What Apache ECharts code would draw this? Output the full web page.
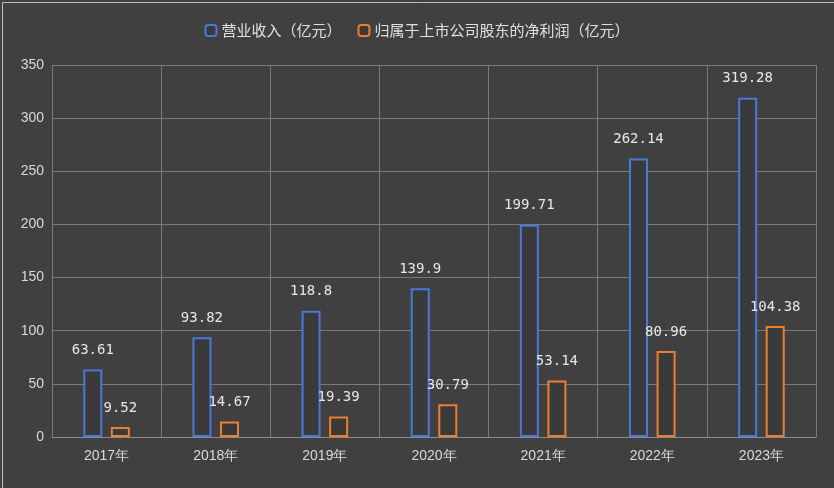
<!DOCTYPE html>
<html><head><meta charset="utf-8">
<script src="https://cdn.jsdelivr.net/npm/echarts@6/dist/echarts.min.js"></script>
<style>html,body{margin:0;padding:0;background:#fff}#c{width:834px;height:488px}</style>
</head><body><div id="c"></div>
<script>
const categories=['2017年','2018年','2019年','2020年','2021年','2022年','2023年'];
const revenue=[63.61,93.82,118.8,139.9,199.71,262.14,319.28];
const profit=[9.52,14.67,19.39,30.79,53.14,80.96,104.38];
const yTicks=[0,50,100,150,200,250,300,350];
const chart=echarts.init(document.getElementById('c'));
const lbl={show:true,position:'top',color:'#e8e8e8',fontFamily:'DejaVu Sans Mono',fontSize:14,distance:12};
chart.setOption({
backgroundColor:'#404040',
legend:{top:18,left:'center',itemWidth:11,itemHeight:11,itemGap:16,textStyle:{color:'#e0e0e0',fontSize:15,fontFamily:'Noto Sans CJK SC'},
data:['营业收入（亿元）','归属于上市公司股东的净利润（亿元）']},
graphic:[{type:'rect',left:0,top:0,shape:{width:832,height:486},style:{fill:'none',stroke:'#bfbfbf',lineWidth:1}}],
grid:{left:52,right:18,top:65,bottom:51},
xAxis:{type:'category',data:categories,axisLine:{lineStyle:{color:'#8c8c8c'}},axisTick:{show:false},
axisLabel:{color:'#d9d9d9',fontSize:14,margin:12},splitLine:{show:true,lineStyle:{color:'#7a7a7a'}}},
yAxis:{type:'value',min:yTicks[0],max:yTicks[yTicks.length-1],interval:50,
axisLabel:{color:'#d9d9d9',fontSize:14},splitLine:{lineStyle:{color:'#7a7a7a'}}},
series:[
{name:'营业收入（亿元）',type:'bar',data:revenue,barWidth:19,barGap:'45%',
itemStyle:{color:'#3a3a3a',borderColor:'#4a78d6',borderWidth:2},label:lbl},
{name:'归属于上市公司股东的净利润（亿元）',type:'bar',data:profit,barWidth:19,
itemStyle:{color:'#3a3a3a',borderColor:'#ed7d31',borderWidth:2},label:lbl}
]});
</script></body></html>
